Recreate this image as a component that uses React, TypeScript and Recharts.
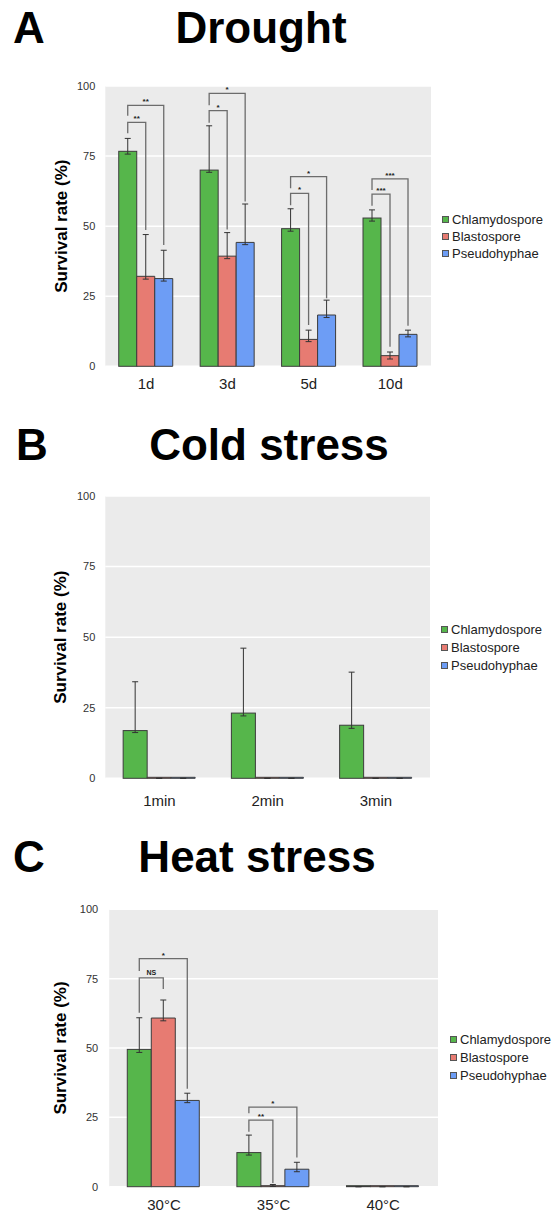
import React from "react";
import {
  BarChart,
  Bar,
  XAxis,
  YAxis,
  CartesianGrid,
  ErrorBar,
  Legend,
} from "recharts";

// ---- data ----
const seriesNames = ["Chlamydospore", "Blastospore", "Pseudohyphae"];
const yTicks = [0, 25, 50, 75, 100];

const droughtCats = ["1d", "3d", "5d", "10d"];
const droughtChl = [76.7, 70.0, 49.1, 52.9];
const droughtChlHi = [4.6, 15.8, 7.1, 2.9];
const droughtChlLo = [1.0, 0.8, 0.9, 1.1];
const droughtBla = [32.1, 39.3, 9.6, 3.8];
const droughtBlaHi = [14.9, 8.4, 3.3, 1.3];
const droughtBlaLo = [1.0, 0.9, 0.8, 1.2];
const droughtPse = [31.3, 44.2, 18.3, 11.4];
const droughtPseHi = [10.1, 13.7, 5.3, 1.5];
const droughtPseLo = [0.9, 0.8, 0.9, 0.9];

const coldCats = ["1min", "2min", "3min"];
const coldChl = [16.9, 23.1, 18.8];
const coldChlHi = [17.3, 23.0, 18.8];
const coldChlLo = [0.7, 1.0, 1.1];
const coldBla = [0, 0, 0];
const coldPse = [0, 0, 0];

const heatCats = ["30°C", "35°C", "40°C"];
const heatChl = [49.5, 12.3, 0];
const heatChlHi = [11.4, 6.3, 0];
const heatChlLo = [1.1, 0.9, 0];
const heatBla = [60.8, 0.3, 0];
const heatBlaHi = [6.5, 0.5, 0];
const heatBlaLo = [1.0, 0.2, 0];
const heatPse = [31.1, 6.3, 0];
const heatPseHi = [2.6, 2.5, 0];
const heatPseLo = [0.8, 0.9, 0];

// significance brackets: from green bar (cat) to series `to` (1 = Blastospore, 2 = Pseudohyphae)
type Bracket = { cat: number; to: number; top: number; from: number; end: number; mark: string };

const droughtBrackets: Bracket[] = [
  { cat: 0, to: 1, top: 87.0, from: 83.1, end: 48.6, mark: "**" },
  { cat: 0, to: 2, top: 93.1, from: 89.4, end: 43.3, mark: "**" },
  { cat: 1, to: 1, top: 91.2, from: 86.9, end: 48.8, mark: "*" },
  { cat: 1, to: 2, top: 97.4, from: 93.1, end: 58.8, mark: "*" },
  { cat: 2, to: 1, top: 61.7, from: 57.5, end: 14.7, mark: "*" },
  { cat: 2, to: 2, top: 67.7, from: 63.5, end: 24.3, mark: "*" },
  { cat: 3, to: 1, top: 61.4, from: 57.3, end: 7.0, mark: "***" },
  { cat: 3, to: 2, top: 66.9, from: 62.9, end: 14.5, mark: "***" },
];

const heatBrackets: Bracket[] = [
  { cat: 0, to: 1, top: 75.3, from: 62.7, end: 71.3, mark: "NS" },
  { cat: 0, to: 2, top: 82.2, from: 77.8, end: 35.3, mark: "*" },
  { cat: 1, to: 1, top: 24.0, from: 19.8, end: 1.3, mark: "**" },
  { cat: 1, to: 2, top: 28.7, from: 26.5, end: 10.5, mark: "*" },
];

const FONT = '"Liberation Sans", Arial, Helvetica, sans-serif';
const COLORS = ["#56b64b", "#e77b72", "#6d9df5"];
const BAR_STROKE = "#3c3c3c";

type Row = {
  cat: string;
  chl: number;
  bla: number;
  pse: number;
  chlErr: number[];
  blaErr: number[];
  pseErr: number[];
};

function buildRows(
  cats: string[],
  chl: number[], chlLo: number[], chlHi: number[],
  bla: number[], blaLo: number[], blaHi: number[],
  pse: number[], pseLo: number[], pseHi: number[]
): Row[] {
  return cats.map((c, i) => ({
    cat: c,
    chl: chl[i],
    bla: bla[i],
    pse: pse[i],
    chlErr: [chlLo[i], chlHi[i]],
    blaErr: [blaLo[i], blaHi[i]],
    pseErr: [pseLo[i], pseHi[i]],
  }));
}

const zeros3 = [0, 0, 0];

const droughtData = buildRows(
  droughtCats,
  droughtChl, droughtChlLo, droughtChlHi,
  droughtBla, droughtBlaLo, droughtBlaHi,
  droughtPse, droughtPseLo, droughtPseHi
);
const coldData = buildRows(
  coldCats,
  coldChl, coldChlLo, coldChlHi,
  coldBla, zeros3, zeros3,
  coldPse, zeros3, zeros3
);
const heatData = buildRows(
  heatCats,
  heatChl, heatChlLo, heatChlHi,
  heatBla, heatBlaLo, heatBlaHi,
  heatPse, heatPseLo, heatPseHi
);

// green bar shape that also draws the comparison brackets, using the bar's own geometry
function greenShape(brackets: Bracket[]) {
  return (props: any) => {
    const { x, y, width, height, fill, index, payload } = props;
    const v = payload ? payload.chl : 0;
    const base = y + height;
    const ppu = v > 0 ? height / v : 0;
    const toY = (u: number) => base - u * ppu;
    const mine = brackets.filter((b) => b.cat === index);
    return (
      <g>
        <rect x={x} y={y} width={width} height={height} fill={fill} stroke={BAR_STROKE} strokeWidth={1} />
        {ppu > 0 &&
          mine.map((b, i) => {
            const lx = x + width / 2;
            const rx = x + width * (b.to + 0.5);
            const ty = toY(b.top);
            return (
              <g key={i}>
                <path
                  d={`M${lx},${toY(b.from)} V${ty} H${rx} V${toY(b.end)}`}
                  fill="none"
                  stroke="#6c6c6c"
                  strokeWidth={1.3}
                />
                <text
                  x={(lx + rx) / 2}
                  y={ty - (b.mark === "NS" ? 3 : 1)}
                  textAnchor="middle"
                  fontSize={b.mark === "NS" ? 7 : 8}
                  fontWeight="bold"
                  fontFamily={FONT}
                  fill="#222"
                >
                  {b.mark}
                </text>
              </g>
            );
          })}
      </g>
    );
  };
}

function LegendBox({ payload, rowH }: { payload?: any[]; rowH: number }) {
  if (!payload) return null;
  const items = [...payload].sort(
    (a, b) => seriesNames.indexOf(a.value) - seriesNames.indexOf(b.value)
  );
  return (
    <div style={{ fontFamily: FONT, fontSize: 13, color: "#222", lineHeight: 1 }}>
      {items.map((p) => (
        <div key={p.value} style={{ height: rowH, display: "flex", alignItems: "center", whiteSpace: "nowrap" }}>
          <span
            style={{
              display: "inline-block",
              width: 5,
              height: 5,
              background: p.color,
              border: "1px solid #555",
              marginRight: 3,
            }}
          />
          {p.value}
        </div>
      ))}
    </div>
  );
}

type PanelProps = {
  data: Row[];
  brackets: Bracket[];
  top: number;
  height: number;
  margin: { top: number; right: number; bottom: number; left: number };
  yWidth: number;
  yTickMargin: number;
  xTickMargin: number;
  legendPos: { left: number; top: number; rowH: number };
};

function Panel({ data, brackets, top, height, margin, yWidth, yTickMargin, xTickMargin, legendPos }: PanelProps) {
  return (
    <div style={{ position: "absolute", left: 0, top }}>
      <BarChart
        width={556}
        height={height}
        data={data}
        margin={margin}
        barCategoryGap="16.5%"
        barGap={0}
      >
        <CartesianGrid vertical={false} stroke="#ffffff" strokeWidth={1.5} fill="#ebebeb" />
        <XAxis
          dataKey="cat"
          height={26}
          axisLine={false}
          tickLine={false}
          tickMargin={xTickMargin}
          stroke="#222"
          tick={{ fontSize: 15, fill: "#222", fontFamily: FONT }}
          interval={0}
        />
        <YAxis
          width={yWidth}
          domain={[0, 100]}
          ticks={yTicks}
          axisLine={false}
          tickLine={false}
          tickMargin={yTickMargin}
          stroke="#333"
          tick={{ fontSize: 11, fill: "#333", fontFamily: FONT }}
          label={{
            value: "Survival rate (%)",
            angle: -90,
            position: "center",
            style: { fontSize: 17, fontWeight: "bold", fill: "#000", fontFamily: FONT },
          }}
        />
        <Legend
          layout="vertical"
          align="center"
          verticalAlign="middle"
          wrapperStyle={{ left: legendPos.left, top: legendPos.top, width: "auto" }}
          content={(p: any) => <LegendBox payload={p.payload} rowH={legendPos.rowH} />}
        />
        <Bar
          dataKey="chl"
          name={seriesNames[0]}
          fill={COLORS[0]}
          stroke={BAR_STROKE}
          shape={greenShape(brackets)}
          minPointSize={1}
          isAnimationActive={false}
        >
          <ErrorBar dataKey={(d: Row) => d.chlErr} width={3} stroke="#333" strokeWidth={1} isAnimationActive={false} />
        </Bar>
        <Bar
          dataKey="bla"
          name={seriesNames[1]}
          fill={COLORS[1]}
          stroke={BAR_STROKE}
          strokeWidth={1}
          minPointSize={1}
          isAnimationActive={false}
        >
          <ErrorBar dataKey={(d: Row) => d.blaErr} width={3} stroke="#333" strokeWidth={1} isAnimationActive={false} />
        </Bar>
        <Bar
          dataKey="pse"
          name={seriesNames[2]}
          fill={COLORS[2]}
          stroke={BAR_STROKE}
          strokeWidth={1}
          minPointSize={1}
          isAnimationActive={false}
        >
          <ErrorBar dataKey={(d: Row) => d.pseErr} width={3} stroke="#333" strokeWidth={1} isAnimationActive={false} />
        </Bar>
      </BarChart>
    </div>
  );
}

function Heading({ letter, title, letterX, titleX, baseline }: { letter: string; title: string; letterX: number; titleX: number; baseline: number }) {
  return (
    <g fontFamily={FONT} fontWeight="bold" fontSize={44} fill="#000">
      <text x={letterX} y={baseline}>{letter}</text>
      <text x={titleX} y={baseline} textAnchor="middle">{title}</text>
    </g>
  );
}

export default function App() {
  return (
    <div style={{ position: "absolute", left: 0, top: 0, width: 556, height: 1213, background: "#fff", overflow: "hidden" }}>
      <svg width={556} height={1213} style={{ position: "absolute", left: 0, top: 0 }}>
        <Heading letter="A" title="Drought" letterX={13} titleX={261} baseline={43} />
        <Heading letter="B" title="Cold stress" letterX={16} titleX={269} baseline={460} />
        <Heading letter="C" title="Heat stress" letterX={13} titleX={257} baseline={872} />
      </svg>
      <Panel
        data={droughtData}
        brackets={droughtBrackets}
        top={0}
        height={410}
        margin={{ top: 86, right: 125, bottom: 17.7, left: 16 }}
        yWidth={89.3}
        yTickMargin={4}
        xTickMargin={6}
        legendPos={{ left: 442, top: 211, rowH: 17 }}
      />
      <Panel
        data={coldData}
        brackets={[]}
        top={410}
        height={400}
        margin={{ top: 86, right: 126, bottom: 5.7, left: 15 }}
        yWidth={90.3}
        yTickMargin={4}
        xTickMargin={11}
        legendPos={{ left: 441, top: 210, rowH: 18 }}
      />
      <Panel
        data={heatData}
        brackets={heatBrackets}
        top={820}
        height={393}
        margin={{ top: 89.3, right: 118, bottom: 0.3, left: 11.4 }}
        yWidth={97.8}
        yTickMargin={5}
        xTickMargin={7}
        legendPos={{ left: 450, top: 211, rowH: 17.7 }}
      />
    </div>
  );
}
